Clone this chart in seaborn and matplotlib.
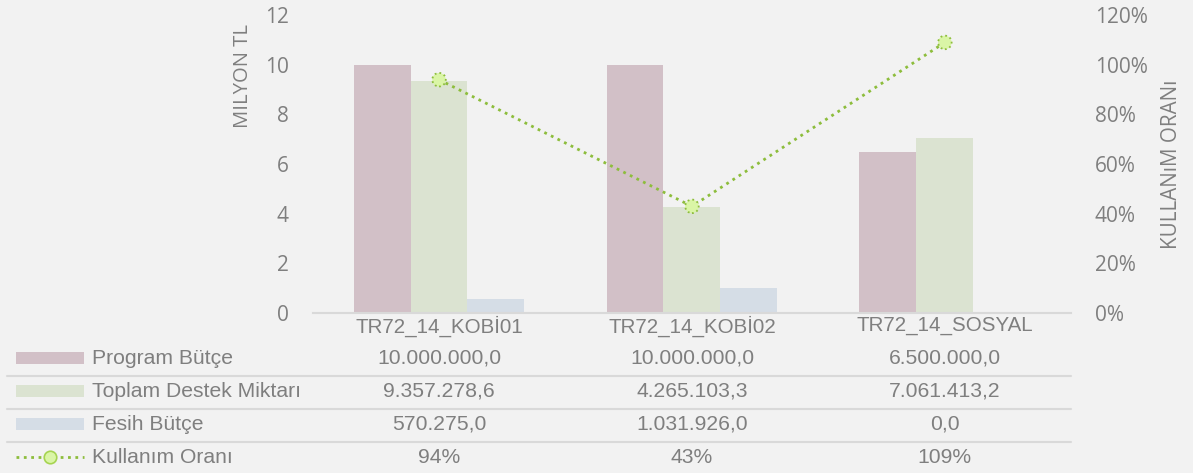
import numpy as np
import pandas as pd
import matplotlib
matplotlib.use("Agg")
import matplotlib.pyplot as plt
import matplotlib.transforms as mtransforms
from matplotlib.patches import Rectangle
from matplotlib.lines import Line2D
import seaborn as sns

# data
categories = ["TR72_14_KOBİ01", "TR72_14_KOBİ02", "TR72_14_SOSYAL"]
series = ["Program Bütçe", "Toplam Destek Miktarı", "Fesih Bütçe"]
program_butce = [10000000.0, 10000000.0, 6500000.0]
toplam_destek = [9357278.6, 4265103.3, 7061413.2]
fesih_butce = [570275.0, 1031926.0, 0.0]
kullanim_orani = [0.94, 0.43, 1.09]
table_program = ["10.000.000,0", "10.000.000,0", "6.500.000,0"]
table_toplam = ["9.357.278,6", "4.265.103,3", "7.061.413,2"]
table_fesih = ["570.275,0", "1.031.926,0", "0,0"]
table_oran = ["94%", "43%", "109%"]

bar_colors = ["#d2c0c7", "#dbe3d1", "#d5dde6"]
line_color = "#8dbd3c"
marker_fill = "#daf5a6"
text_color = "#7f7f7f"
bg = "#f2f2f2"

df = pd.DataFrame({
    "kategori": categories * 3,
    "seri": np.repeat(series, 3),
    "deger": np.array(program_butce + toplam_destek + fesih_butce) / 1e6,
})

sns.set_theme(style="white")
plt.rcParams["font.family"] = ["Liberation Sans", "DejaVu Sans"]

fig = plt.figure(figsize=(11.93, 4.73), dpi=100, facecolor=bg)
ax = fig.add_axes([0.262, 0.338, 0.636, 0.630])
ax.set_facecolor(bg)

sns.barplot(data=df, x="kategori", y="deger", hue="seri", palette=bar_colors,
            width=0.675, gap=0, ax=ax, legend=False, saturation=1)
for p in ax.patches:
    p.set_edgecolor("none")

ax.set_xlim(-0.5, 2.5)
ax.set_ylim(0, 12)
ax.set_yticks(range(0, 13, 2))
ax.set_xlabel("")
ax.set_ylabel("")
for s in ["top", "right", "left"]:
    ax.spines[s].set_visible(False)
ax.spines["bottom"].set_color("#d9d9d9")
ax.spines["bottom"].set_linewidth(1.5)
ax.tick_params(axis="y", length=0, pad=17, labelsize=15, labelcolor=text_color)
ax.tick_params(axis="x", length=0, pad=2, labelsize=14.8, labelcolor=text_color)
for t in ax.get_yticklabels():
    t.set_fontfamily("Open Sans")

ax2 = ax.twinx()
ax2.set_ylim(0, 1.2)
ax2.set_yticks(np.arange(0, 1.21, 0.2))
ax2.set_yticklabels([f"{int(round(v * 100))}%" for v in np.arange(0, 1.21, 0.2)])
for s in ["top", "right", "left", "bottom"]:
    ax2.spines[s].set_visible(False)
ax2.tick_params(axis="y", length=0, pad=17, labelsize=15, labelcolor=text_color)
for t in ax2.get_yticklabels():
    t.set_fontfamily("Open Sans")
x_pos = np.arange(len(categories))
ax2.plot(x_pos, kullanim_orani, linestyle=":", linewidth=2.0, color=line_color)
ax2.scatter(x_pos, kullanim_orani, s=95, facecolor=marker_fill, edgecolor=line_color,
            linewidths=1.3, linestyle=":", zorder=3)
ax2.set_xlim(-0.5, 2.5)

fig.text(0.204, 0.839, "MILYON TL", rotation=90, ha="center", va="center",
         fontsize=14.6, color=text_color, family="Open Sans")
fig.text(0.982, 0.653, "KULLANıM ORANı", rotation=90, ha="center", va="center",
         fontsize=14.9, color=text_color, family="Open Sans")

# data table
trans = mtransforms.blended_transform_factory(ax.transData, fig.transFigure)
rows = [table_program, table_toplam, table_fesih, table_oran]
row_y = [358, 391, 424, 457]
for r, ypx in zip(rows, row_y):
    for i, txt in enumerate(r):
        fig.text(i, 1 - ypx / 473, txt, transform=trans, ha="center", va="center",
                 fontsize=15.2, color=text_color)
for name, ypx in zip(series + ["Kullanım Oranı"], row_y):
    fig.text(92 / 1193, 1 - ypx / 473, name, ha="left", va="center",
             fontsize=15.2, color=text_color)
for c, ypx in zip(bar_colors, row_y[:3]):
    fig.patches.append(Rectangle((16 / 1193, 1 - (ypx + 6) / 473), 68 / 1193, 12 / 473,
                                 transform=fig.transFigure, facecolor=c, edgecolor="none"))
ly = 1 - row_y[3] / 473
fig.lines.append(Line2D([16 / 1193, 84 / 1193], [ly, ly], transform=fig.transFigure,
                        linestyle=":", linewidth=2.0, color=line_color))
fig.lines.append(Line2D([50 / 1193], [ly], transform=fig.transFigure, marker="o",
                        markersize=9, markerfacecolor=marker_fill,
                        markeredgecolor="#a6d451", markeredgewidth=1.2, linestyle="none"))
for ypx in [376, 409, 442]:
    fig.lines.append(Line2D([7 / 1193, 1071 / 1193], [1 - ypx / 473] * 2,
                            transform=fig.transFigure, color="#d9d9d9", linewidth=1.5))

fig.savefig("out.png", dpi=100, facecolor=bg)
